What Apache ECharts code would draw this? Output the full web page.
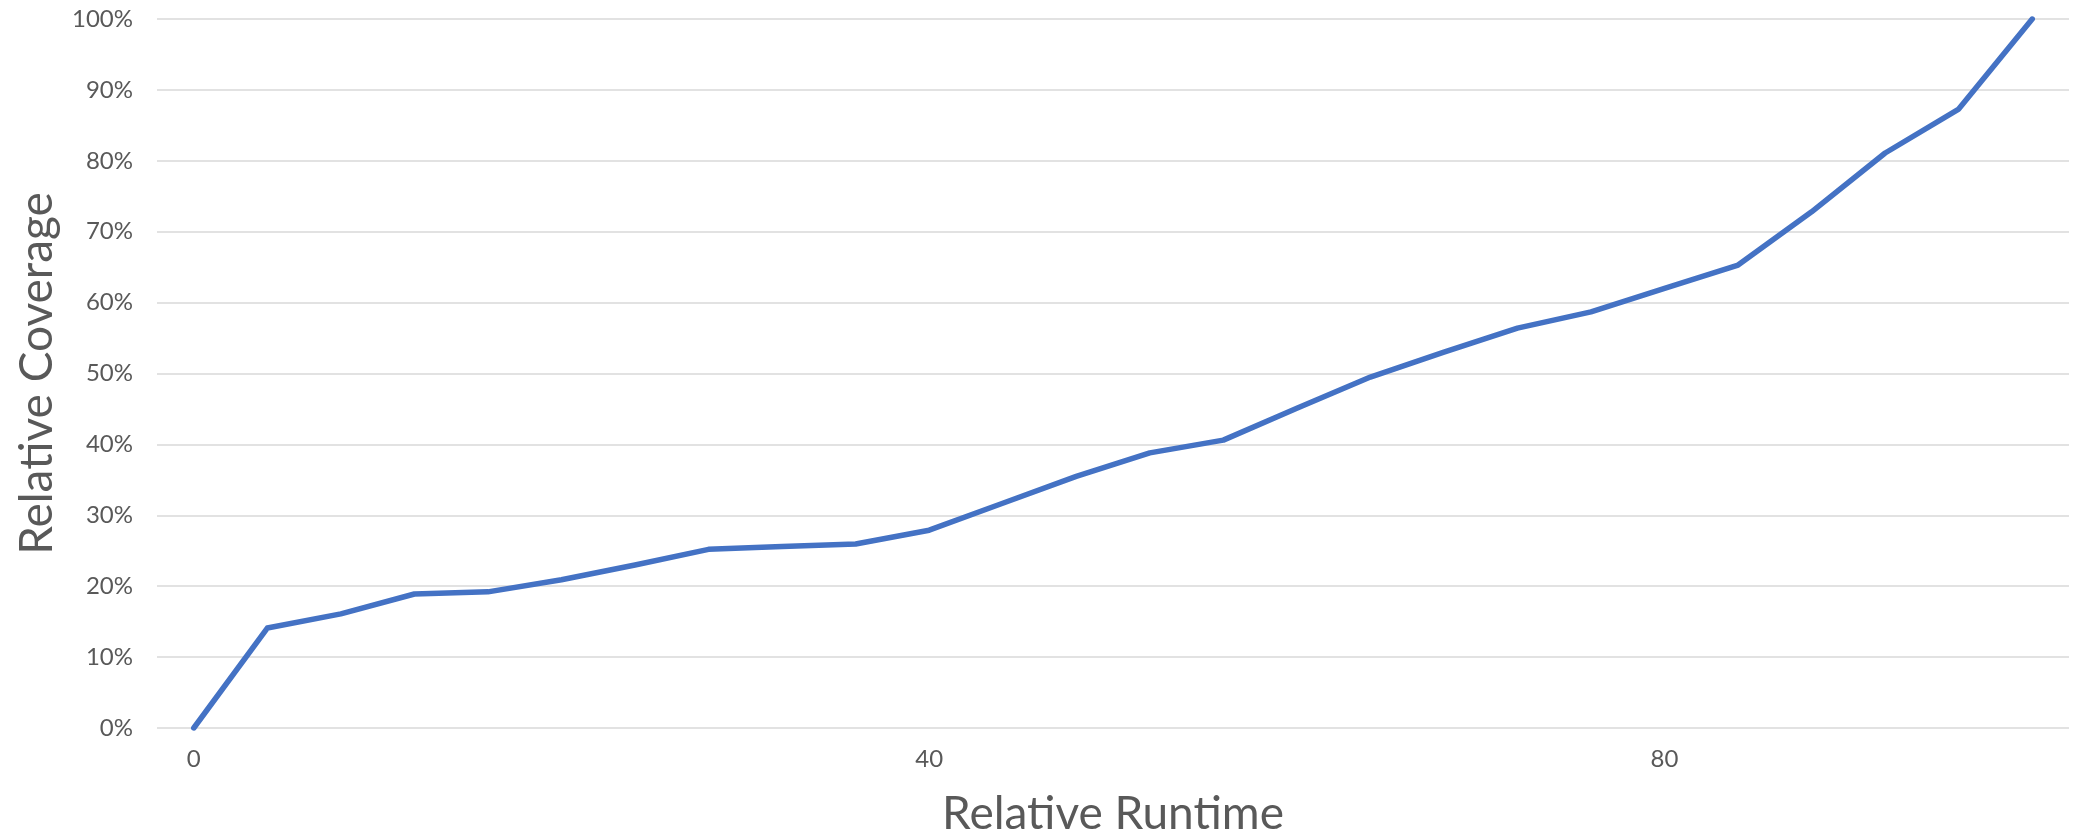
<!DOCTYPE html>
<html>
<head>
<meta charset="utf-8">
<script src="https://cdn.jsdelivr.net/npm/echarts@6/dist/echarts.min.js"></script>
<style>
html,body{margin:0;padding:0;background:#fff;overflow:hidden;}
#chart{width:2073px;height:840px;}
</style>
</head>
<body>
<div id="chart"></div>
<script>
const runtimeCategories = ["0","4","8","12","16","20","24","28","32","36","40","44","48","52","56","60","64","68","72","76","80","84","88","92","96","100"];
const coverageValues = [0,14.1,16.1,18.9,19.2,20.9,23.0,25.2,25.6,25.95,27.9,31.7,35.5,38.8,40.6,45.1,49.5,53.0,56.4,58.7,62.0,65.3,72.8,81.1,87.3,100];
const xAxisTitle = "Relative Runtime";
const yAxisTitle = "Relative Coverage";

const FONT = "Lato";
const chart = echarts.init(document.getElementById('chart'));
chart.setOption({
  animation: false,
  backgroundColor: '#ffffff',
  grid: { left: 157, right: 4, top: 19, bottom: 112, containLabel: false, outerBoundsMode: 'none' },
  xAxis: {
    type: 'category',
    data: runtimeCategories,
    boundaryGap: true,
    axisLine: { show: false },
    axisTick: { show: false },
    splitLine: { show: false },
    axisLabel: { interval: 9, color: '#595959', fontSize: 24, fontFamily: FONT, margin: 19 },
    name: xAxisTitle,
    nameLocation: 'middle',
    nameGap: 63,
    nameTextStyle: { color: '#595959', fontSize: 46, fontFamily: FONT }
  },
  yAxis: {
    type: 'value',
    min: 0,
    max: 100,
    interval: 10,
    axisLine: { show: false },
    axisTick: { show: false },
    splitLine: { lineStyle: { color: '#d9d9d9', width: 1.5 } },
    axisLabel: { color: '#595959', fontSize: 24, fontFamily: FONT, margin: 24, formatter: v => v + '%' },
    name: yAxisTitle,
    nameLocation: 'middle',
    nameGap: 97,
    nameRotate: 90,
    nameTextStyle: { color: '#595959', fontSize: 46, fontFamily: FONT }
  },
  series: [{
    type: 'line',
    data: coverageValues,
    showSymbol: false,
    symbol: 'none',
    lineStyle: { color: '#4472C4', width: 5.5, cap: 'round', join: 'round' }
  }]
});
</script>
</body>
</html>
